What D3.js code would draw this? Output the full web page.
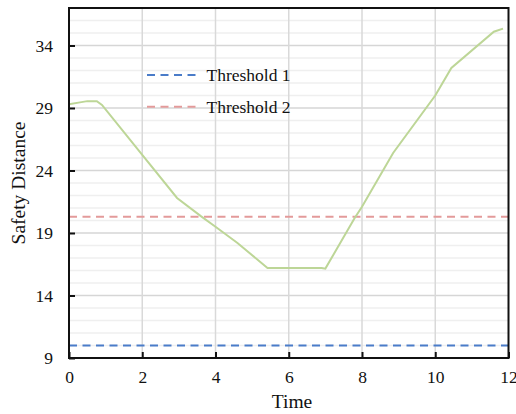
<!DOCTYPE html>
<html>
<head>
<meta charset="utf-8">
<script src="https://cdn.jsdelivr.net/npm/d3@7"></script>
<style>
	body { margin: 0; background: white; }
	svg text { font-family: "Liberation Serif", "Times New Roman", Times, "DejaVu Serif", serif !important; fill: #111; }
</style>
</head>
<body>
<svg id="line-plot" width="516" height="414" viewBox="0 0 516 414"></svg>
<script>

// values
const time_values = [0, 0.3, 0.5, 0.76, 0.9, 2, 2.95, 3.6, 4, 4.6, 5.42, 6.9, 7.0, 7.8, 8.0, 8.85, 10.0, 10.44, 11.6, 11.85];
const distance_values = [29.3, 29.45, 29.55, 29.55, 29.25, 25.25, 21.8, 20.35, 19.5, 18.2, 16.2, 16.2, 16.15, 20.2, 21.1, 25.4, 30.0, 32.2, 35.1, 35.35];

const threshold_names = ["Threshold 1", "Threshold 2"];
const threshold_values = [10, 20.3];
const threshold_colors = ["#4a7cc9", "#e39a9a"];

const x_ticks = [0, 2, 4, 6, 8, 10, 12];
const y_ticks = [9, 14, 19, 24, 29, 34];
const y_minor_ticks = d3.range(10, 37);

class LinePlot {

	constructor(svg_element_id) {
		this.svg = d3.select('#' + svg_element_id);

		const plot_left = 69, plot_right = 508.5, plot_top = 8, plot_bottom = 358;

		const x = d3.scaleLinear().domain([0, 12]).range([plot_left, plot_right]);
		const y = d3.scaleLinear().domain([9, 37]).range([plot_bottom, plot_top]);

		// minor horizontal grid
		this.svg.append("g")
			.selectAll("line")
			.data(y_minor_ticks.filter(v => !y_ticks.includes(v)))
			.enter()
			.append("line")
				.attr("x1", plot_left).attr("x2", plot_right)
				.attr("y1", d => y(d)).attr("y2", d => y(d))
				.style("stroke", "#efefef")
				.style("stroke-width", "1.5px");

		// major horizontal grid
		this.svg.append("g")
			.selectAll("line")
			.data(y_ticks.slice(1))
			.enter()
			.append("line")
				.attr("x1", plot_left).attr("x2", plot_right)
				.attr("y1", d => y(d)).attr("y2", d => y(d))
				.style("stroke", "#d6d6d6")
				.style("stroke-width", "1.5px");

		// vertical grid
		this.svg.append("g")
			.selectAll("line")
			.data(x_ticks.slice(1, -1))
			.enter()
			.append("line")
				.attr("x1", d => x(d)).attr("x2", d => x(d))
				.attr("y1", plot_top).attr("y2", plot_bottom)
				.style("stroke", "#d9d9d9")
				.style("stroke-width", "1.5px");

		// threshold lines
		this.svg.append("g")
			.selectAll("line")
			.data(threshold_values)
			.enter()
			.append("line")
				.attr("x1", plot_left).attr("x2", plot_right)
				.attr("y1", d => y(d)).attr("y2", d => y(d))
				.style("stroke", (d, i) => threshold_colors[i])
				.style("stroke-width", "2px")
				.style("stroke-dasharray", "8,5.5");

		// the safety distance curve
		const line = d3.line()
			.x((d, i) => x(time_values[i]))
			.y(d => y(d));

		this.svg.append("path")
			.datum(distance_values)
			.attr("d", line)
			.style("fill", "none")
			.style("stroke", "#bdd697")
			.style("stroke-width", "2px");

		// axes, ticks pointing inward
		const x_axis = d3.axisBottom(x).tickValues(x_ticks).tickSize(-6).tickPadding(13).tickFormat(d3.format("d"));
		const y_axis = d3.axisLeft(y).tickValues(y_ticks).tickSize(-6).tickPadding(16).tickFormat(d3.format("d"));

		const x_g = this.svg.append("g")
			.attr("transform", "translate(0," + plot_bottom + ")")
			.call(x_axis);
		const y_g = this.svg.append("g")
			.attr("transform", "translate(" + plot_left + ",0)")
			.call(y_axis);

		[x_g, y_g].forEach(g => {
			g.attr("font-family", null);
			g.select(".domain").remove();
			g.selectAll(".tick line").style("stroke", "#111").style("stroke-width", "2px");
			g.selectAll(".tick text")
				.style("font-size", "17.5px")
				.style("fill", "#111");
		});

		// frame
		this.svg.append("rect")
			.attr("x", plot_left).attr("y", plot_top)
			.attr("width", plot_right - plot_left)
			.attr("height", plot_bottom - plot_top)
			.style("fill", "none")
			.style("stroke", "#111")
			.style("stroke-width", "2px");

		// axis titles
		this.svg.append("text")
			.attr("x", 292).attr("y", 408)
			.attr("text-anchor", "middle")
			.style("font-size", "19.5px")
			.text("Time");

		this.svg.append("text")
			.attr("transform", "translate(25," + 183 + ") rotate(-90)")
			.attr("text-anchor", "middle")
			.style("font-size", "19.5px")
			.text("Safety Distance");

		// legend
		const legend = this.svg.append("g")
			.selectAll("g")
			.data(threshold_names)
			.enter()
			.append("g")
				.attr("transform", (d, i) => "translate(147," + (75 + i * 31.7) + ")");

		legend.append("line")
			.attr("x1", 0).attr("x2", 52)
			.attr("y1", 0).attr("y2", 0)
			.style("stroke", (d, i) => threshold_colors[i])
			.style("stroke-width", "2px")
			.style("stroke-dasharray", "8,5.5");

		legend.append("text")
			.attr("x", 59.5).attr("y", 6)
			.style("font-size", "17.5px")
			.text(d => d);
	}
}

function whenDocumentLoaded(action) {
	if (document.readyState === "loading") {
		document.addEventListener("DOMContentLoaded", action);
	} else {
		action();
	}
}

whenDocumentLoaded(() => {
	plot_object = new LinePlot('line-plot');
});

</script>
</body>
</html>
